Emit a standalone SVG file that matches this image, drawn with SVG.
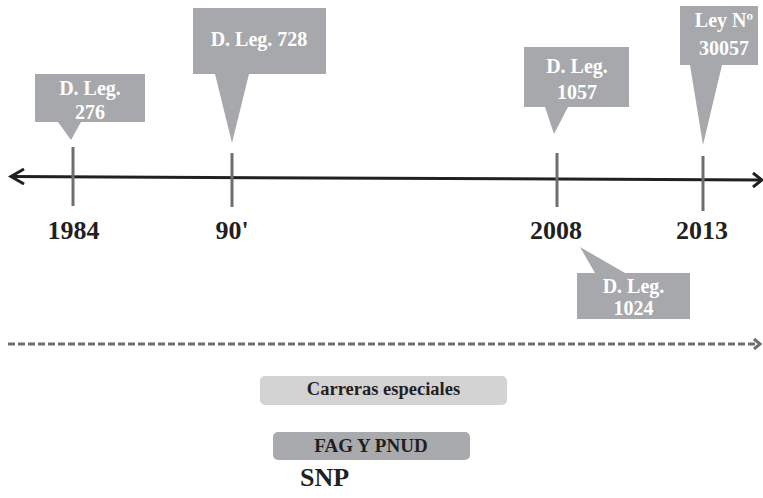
<svg xmlns="http://www.w3.org/2000/svg" width="763" height="498" viewBox="0 0 763 498">
  <style>
    .callout { fill: #a7a8ab; }
    .ctext { font-family: "Liberation Serif", "DejaVu Serif", serif; font-weight: bold; font-size: 20px; fill: #ffffff; text-anchor: middle; }
    .year { font-family: "Liberation Serif", "DejaVu Serif", serif; font-weight: bold; font-size: 26px; fill: #231f20; text-anchor: middle; }
    .tick { stroke: #6d6e71; stroke-width: 3; }
    .axis { stroke: #231f20; stroke-width: 3; fill: none; }
    .dash { stroke: #6d6e71; stroke-width: 3; fill: none; stroke-dasharray: 7 3; }
    .label { font-family: "Liberation Serif", "DejaVu Serif", serif; font-weight: bold; fill: #231f20; text-anchor: middle; }
  </style>
  <rect width="763" height="498" fill="#ffffff"/>

  <!-- timeline axis, ticks and dashed period line -->
  <g id="connectors">
    <line class="axis" x1="11" y1="176.5" x2="762" y2="180"/>
    <polyline class="axis" points="24,169 11,176.5 24,184" stroke-width="3.5"/>
    <polyline class="axis" points="753,173 762,180 753,187" stroke-width="3.5"/>
    <line class="tick" x1="73" y1="147" x2="73" y2="206"/>
    <line class="tick" x1="232" y1="153" x2="232" y2="207"/>
    <line class="tick" x1="557" y1="153" x2="557" y2="207"/>
    <line class="tick" x1="703" y1="156" x2="703" y2="211"/>
    <line class="dash" x1="8" y1="344" x2="756" y2="344"/>
    <polyline points="754,339 760,344 754,349" fill="none" stroke="#6d6e71" stroke-width="3"/>
  </g>

  <!-- year labels -->
  <g id="years">
    <text class="year" x="73.5" y="239">1984</text>
    <text class="year" x="232" y="239">90'</text>
    <text class="year" x="556" y="239">2008</text>
    <text class="year" x="702" y="239">2013</text>
  </g>

  <g id="dleg276">
    <path class="callout" d="M35,74 H145 V122 H81 L71,140 L58,122 H35 Z"/>
    <text class="ctext" x="90" y="95">D. Leg.</text>
    <text class="ctext" x="90" y="119">276</text>
  </g>

  <g id="dleg728">
    <path class="callout" d="M193,8 H326 V74 H249 L232,143 L215,74 H193 Z"/>
    <text class="ctext" x="259" y="46">D. Leg. 728</text>
  </g>

  <g id="dleg1057">
    <path class="callout" d="M524,47 H629 V107 H568 L554,134 L545,107 H524 Z"/>
    <text class="ctext" x="577" y="73">D. Leg.</text>
    <text class="ctext" x="577" y="99">1057</text>
  </g>

  <g id="ley30057">
    <path class="callout" d="M680,6 H758 V65 H722 L703,145 L690,65 H680 Z"/>
    <text class="ctext" x="724" y="27">Ley Nº</text>
    <text class="ctext" x="724" y="55">30057</text>
  </g>

  <g id="dleg1024">
    <path class="callout" d="M577,273 H595 L580,247 L625,273 H690 V319 H577 Z"/>
    <text class="ctext" x="633.5" y="293">D. Leg.</text>
    <text class="ctext" x="633.5" y="315">1024</text>
  </g>

  <g id="carreras">
    <rect x="260" y="376" width="247" height="29" rx="5" fill="#d3d3d4"/>
    <text class="label" x="383.5" y="395" font-size="18.5">Carreras especiales</text>
  </g>

  <g id="fag">
    <rect x="273" y="432" width="197" height="28" rx="5" fill="#a9aaad"/>
    <text class="label" x="371" y="452" font-size="19">FAG Y PNUD</text>
  </g>

  <g id="snp">
    <text class="label" x="324.5" y="486" font-size="26">SNP</text>
  </g>
</svg>
